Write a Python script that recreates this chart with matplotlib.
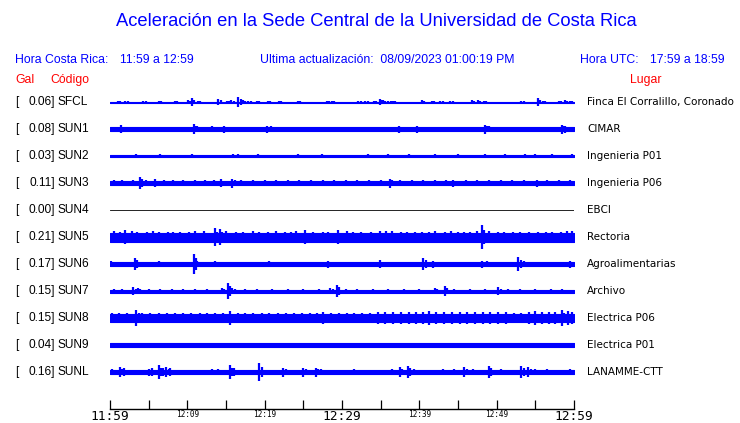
import matplotlib
matplotlib.use("Agg")
import matplotlib.pyplot as plt

W, H = 740, 423

title = "Aceleración en la Sede Central de la Universidad de Costa Rica"
hora_cr = "11:59 a 12:59"
hora_utc = "17:59 a 18:59"
actualizacion = "08/09/2023 01:00:19 PM"

codes = ["SFCL", "SUN1", "SUN2", "SUN3", "SUN4", "SUN5", "SUN6", "SUN7", "SUN8", "SUN9", "SUNL"]
gal = [0.06, 0.08, 0.03, 0.11, 0.00, 0.21, 0.17, 0.15, 0.15, 0.04, 0.16]
places = ["Finca El Corralillo, Coronado", "CIMAR", "Ingenieria P01", "Ingenieria P06", "EBCI",
          "Rectoria", "Agroalimentarias", "Archivo", "Electrica P06", "Electrica P01", "LANAMME-CTT"]

# minutes after 11:59
tick_minutes = [0, 5, 10, 15, 20, 25, 30, 35, 40, 45, 50, 55, 60]
tick_labels = ["11:59", "", "12:09", "", "12:19", "", "12:29", "", "12:39", "", "12:49", "", "12:59"]
big_ticks = ["11:59", "12:29", "12:59"]

# background half-width of each trace (pixels)
base = [0.5, 1.6, 0.7, 2.0, 0.0, 4.5, 1.8, 1.5, 4.2, 1.6, 1.6]

# bursts: (minute, half-height in pixels)
peaks_sfcl = [(1.0, 1.5), (2.0, 1.5), (4.3, 1.5), (6.3, 1.5), (8.4, 1.5), (10.1, 2), (10.6, 4),
              (11.4, 1.5), (14.0, 3), (15.1, 1.5), (15.7, 2), (16.6, 5), (17.2, 2), (17.9, 1.5),
              (19.0, 1.5), (20.4, 1.5), (21.8, 1.5), (24.3, 1.5), (28.0, 1.5), (28.7, 1.5),
              (32.1, 1.5), (33.0, 1.5), (34.1, 1.5), (34.9, 3), (35.3, 2), (36.0, 1.5), (36.6, 1.5),
              (40.3, 2), (41.6, 1.5), (42.7, 1.5), (44.0, 1.5), (46.8, 2), (47.6, 2), (48.3, 1.5),
              (53.2, 1.5), (55.3, 4), (56.0, 1.5), (58.0, 1.5), (58.8, 2), (59.5, 1.5)]
peaks_sun1 = [(1.4, 4), (2.3, 2.5), (10.8, 5), (11.2, 3), (13.2, 3), (14.8, 3.5), (14.3, 2.5),
              (20.3, 3.5), (20.8, 3), (23.0, 2.5), (27.0, 2), (31.5, 2), (35.0, 2.5), (37.4, 3.5),
              (39.7, 3.5), (40.2, 2.5), (43.0, 2), (46.0, 2), (48.5, 4.5), (49.0, 3), (55.0, 2),
              (58.0, 2.5), (58.4, 4.5), (58.9, 3.5)]
peaks_sun2 = [(0.2, 1.5), (1.3, 1.5), (3.4, 2), (4.1, 1.5), (5.4, 1.5), (6.5, 2), (7.1, 1.5),
              (8.0, 1.5), (9.3, 1.5), (10.6, 2), (11.8, 1.5), (13.1, 1.5), (14.4, 1.5), (15.9, 2),
              (16.6, 2), (18.3, 1.5), (19.2, 2), (20.9, 1.5), (21.8, 1.5), (23.3, 1.5), (24.3, 2),
              (26.1, 1.5), (27.4, 2), (29.5, 1.5), (31.3, 1.5), (33.4, 2), (33.8, 1.5), (36.0, 2),
              (37.3, 1.5), (38.6, 2), (39.9, 1.5), (42.0, 2), (43.7, 1.5), (45.0, 2), (47.6, 1.5),
              (48.5, 2), (51.1, 2), (52.0, 1.5), (53.7, 2), (55.0, 2), (55.4, 1.5), (57.1, 2),
              (58.8, 1.5), (59.7, 2)]
peaks_sun3 = [(0.5, 3), (1.5, 3), (3.0, 3), (3.9, 6), (4.6, 3), (5.8, 4), (7.0, 3), (8.2, 3),
              (9.5, 3), (11.0, 3), (12.3, 3), (13.5, 3), (14.4, 4), (15.8, 4.5), (17.0, 3),
              (18.5, 3), (20.0, 3), (21.5, 3), (23.0, 3), (24.5, 3), (26.0, 3), (27.5, 3),
              (29.0, 3), (30.5, 3), (32.0, 3), (33.5, 3), (35.0, 3), (36.2, 4.5), (37.5, 3),
              (39.0, 3), (40.5, 3), (42.0, 3), (43.5, 3), (44.4, 3.5), (46.0, 3), (47.5, 3),
              (49.0, 3), (50.5, 3), (52.0, 3), (53.5, 3), (55.2, 3.5), (56.5, 3), (58.0, 3),
              (59.5, 3)]
peaks_sun4 = []
peaks_sun5 = [(0.5, 6), (1.3, 5), (1.9, 7), (2.8, 6), (3.5, 5), (4.8, 5), (5.6, 6), (6.4, 5),
              (7.5, 5), (8.2, 5), (9.0, 5), (10.2, 5), (11.0, 6), (12.1, 6), (13.6, 9), (14.2, 8),
              (15.0, 6), (16.3, 5), (17.2, 5), (18.5, 6), (19.3, 5), (20.4, 5), (21.5, 6),
              (22.6, 5), (23.4, 5), (24.1, 6), (25.2, 7), (26.3, 5), (27.5, 5), (28.2, 5),
              (29.5, 7), (30.6, 6), (31.4, 5), (32.5, 5), (33.8, 5), (34.9, 6), (35.7, 6),
              (36.5, 6), (37.6, 5), (38.4, 5), (39.5, 5), (40.3, 5), (41.2, 5), (42.0, 6),
              (43.3, 5), (44.1, 6), (45.0, 5), (45.8, 5), (46.6, 5), (47.4, 6), (48.1, 12),
              (49.0, 6), (50.2, 5), (51.0, 5), (52.1, 5), (53.0, 5), (54.2, 5), (55.3, 5),
              (56.4, 5), (57.2, 5), (58.3, 5), (59.1, 6), (59.7, 6)]
peaks_sun6 = [(0.1, 3), (1.5, 2.5), (2.4, 2.5), (3.2, 6), (4.2, 2.5), (5.6, 2.5), (6.4, 3),
              (8.0, 2.5), (10.8, 10), (11.3, 3), (13.6, 3), (15.5, 2.5), (17.5, 2.5), (20.5, 3),
              (22.0, 2.5), (24.0, 2.5), (28.2, 3.5), (29.5, 2.5), (34.9, 4), (36.5, 2.5),
              (38.0, 2.5), (39.3, 2.5), (40.5, 6), (41.8, 3.5), (43.0, 2.5), (45.5, 2.5),
              (48.1, 3.5), (48.8, 3), (50.5, 2.5), (52.8, 7), (53.5, 3), (55.0, 2.5), (56.5, 2.5),
              (58.0, 2.5), (59.5, 3.5)]
peaks_sun7 = [(0.5, 2.5), (1.5, 2.5), (3.0, 4), (3.6, 3), (5.0, 2.5), (6.5, 2.5), (8.0, 2.5),
              (9.5, 2.5), (11.0, 2.5), (12.5, 2.5), (14.5, 3), (15.2, 8), (15.8, 3), (17.5, 2.5),
              (19.0, 2.5), (21.0, 2.5), (23.0, 2.5), (25.0, 2.5), (27.0, 2.5), (28.5, 3),
              (29.3, 6), (30.5, 2.5), (32.0, 2.5), (34.0, 2.5), (36.0, 2.5), (38.0, 2.5),
              (40.0, 2.5), (42.0, 3), (43.3, 5), (44.5, 2.5), (46.5, 2.5), (48.5, 2.5),
              (50.2, 4), (51.5, 2.5), (53.0, 2.5), (55.0, 2.5), (57.0, 2.5), (58.5, 2.5)]
peaks_sun8 = [(0.3, 5), (1.2, 5), (2.2, 5), (3.4, 8), (4.2, 5), (5.2, 5), (6.3, 5), (7.4, 5),
              (8.4, 5), (9.5, 5), (10.5, 5), (11.6, 5), (12.6, 5), (13.6, 5), (14.6, 5),
              (15.5, 7), (16.5, 5), (17.5, 5), (18.5, 5), (19.6, 5), (20.6, 5), (21.7, 5),
              (22.7, 5), (23.8, 5), (24.8, 5), (25.8, 5), (26.8, 5), (27.6, 6), (28.6, 5),
              (29.6, 5), (30.6, 5), (31.6, 5), (32.6, 5), (33.6, 5), (34.6, 6), (35.6, 6),
              (36.6, 6), (37.6, 6), (38.6, 6), (39.6, 6), (40.5, 6), (41.2, 7), (42.2, 6),
              (43.2, 6), (44.2, 6), (45.2, 6), (46.2, 6), (47.2, 6), (48.2, 6), (49.2, 6),
              (50.2, 6), (51.2, 6), (52.2, 5), (53.2, 5), (54.2, 6), (55.0, 7), (55.8, 6),
              (56.8, 6), (57.6, 6), (58.4, 8), (59.2, 7), (59.8, 6)]
peaks_sun9 = [(3.9, 2.5), (15.7, 2.5), (26.0, 2.2), (36.0, 2.5), (39.0, 2.5), (55.0, 2.2)]
peaks_sunl = [(0.3, 3), (1.3, 5), (1.8, 4), (3.0, 2.5), (4.2, 2.5), (5.0, 3.5), (5.4, 4),
              (6.3, 7), (6.8, 4), (7.3, 5), (7.8, 4), (9.0, 2.5), (10.5, 2.5), (12.0, 2.5),
              (13.2, 3), (14.0, 3), (15.5, 7), (16.0, 4), (17.0, 2.5), (18.2, 2.5), (19.3, 9),
              (22.4, 4.5), (25.0, 4.5), (26.6, 4.5), (27.3, 3), (28.6, 2.5), (30.0, 2.5),
              (31.5, 3), (33.0, 2.5), (36.5, 3), (37.5, 5), (38.5, 6), (39.3, 3), (42.0, 2.5),
              (43.0, 3), (44.5, 3), (45.8, 5), (47.0, 3), (49.0, 6), (50.5, 3), (52.0, 2.5),
              (53.2, 6), (54.1, 5), (55.0, 3), (56.5, 3), (58.0, 2.5), (59.5, 3)]

peaks = [peaks_sfcl, peaks_sun1, peaks_sun2, peaks_sun3, peaks_sun4, peaks_sun5,
         peaks_sun6, peaks_sun7, peaks_sun8, peaks_sun9, peaks_sunl]

ROW = 27.0          # pixel spacing between traces
BLUE = "#0000ff"
SANS = "Liberation Sans"


def px(x, y):
    return x / W, 1 - y / H


fig = plt.figure(figsize=(W / 100, H / 100), dpi=100)
fig.patch.set_facecolor("white")

# axes box: x 110..574 px, y 88..409 px
ax = fig.add_axes([110 / W, 1 - 409 / H, 464 / W, (409 - 88) / H])
ax.set_xlim(0, 60)
ax.set_ylim((409 - 102) / ROW, (88 - 102) / ROW)
for s in ["top", "left", "right"]:
    ax.spines[s].set_visible(False)
ax.spines["bottom"].set_linewidth(1.0)
ax.set_yticks([])
ax.set_xticks(tick_minutes)
ax.set_xticklabels(tick_labels, family="DejaVu Sans Mono")
ax.tick_params(axis="x", direction="in", length=6.5, width=0.9, pad=0.5)
for lab in ax.get_xticklabels():
    if lab.get_text() in big_ticks:
        lab.set_fontsize(9.3)
    else:
        lab.set_fontsize(5.6)

for i, code in enumerate(codes):
    b = base[i] / ROW
    if gal[i] == 0:
        ax.plot([0, 60], [i, i], color="black", lw=0.6)
    else:
        ax.fill_between([0, 60], i - b, i + b, color=BLUE, lw=0.8, edgecolor=BLUE)
        if peaks[i]:
            t = [p[0] for p in peaks[i]]
            a = [p[1] / ROW for p in peaks[i]]
            ax.vlines(t, [i - v for v in a], [i + v for v in a], color=BLUE, lw=1.6)
            # blocky shoulders around each burst
            a2 = [0.6 * v for v in a]
            ax.vlines([x + 0.3 for x in t], [i - v for v in a2], [i + v for v in a2], color=BLUE, lw=1.6)

    # left & right labels
    y = 102 + i * ROW
    fig.text(*px(15, y), "[", family=SANS, fontsize=8.6, va="center", ha="left")
    fig.text(*px(55, y), f"{gal[i]:.2f}]", family=SANS, fontsize=8.6, va="center", ha="right")
    fig.text(*px(58, y), code, family=SANS, fontsize=8.6, va="center", ha="left")
    fig.text(*px(587, y), places[i], family="DejaVu Sans", fontsize=7.5, va="center", ha="left")

# headers
fig.text(*px(376, 22), title, family=SANS, fontsize=13.2, color=BLUE, ha="center", va="center")
fig.text(*px(15, 60), "Hora Costa Rica:", family=SANS, fontsize=8.8, color=BLUE, va="center")
fig.text(*px(120, 60), hora_cr, family=SANS, fontsize=8.8, color=BLUE, va="center")
fig.text(*px(260, 60), "Ultima actualización:  " + actualizacion, family=SANS, fontsize=8.8,
         color=BLUE, va="center")
fig.text(*px(580, 60), "Hora UTC:", family=SANS, fontsize=8.8, color=BLUE, va="center")
fig.text(*px(650, 60), hora_utc, family=SANS, fontsize=8.8, color=BLUE, va="center")
fig.text(*px(15, 80), "Gal", family=SANS, fontsize=8.8, color="#ff0000", va="center")
fig.text(*px(50, 80), "Código", family=SANS, fontsize=8.8, color="#ff0000", va="center")
fig.text(*px(630, 80), "Lugar", family=SANS, fontsize=8.8, color="#ff0000", va="center")

fig.savefig("out.png", dpi=100)
